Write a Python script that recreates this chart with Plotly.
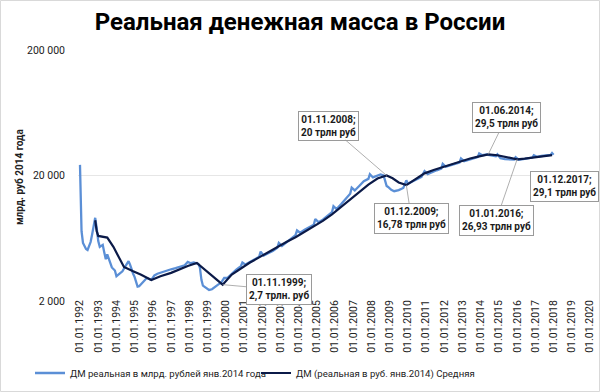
import math
import plotly.graph_objects as go

# --- data ---
light_dates = ["1992-01","1992-02","1992-03","1992-05","1992-06","1992-08","1992-09","1992-10","1992-11","1992-12",
"1993-01","1993-02","1993-04","1993-05","1993-06","1993-07","1993-08","1993-09","1993-10","1993-12",
"1994-01","1994-03","1994-05","1994-07","1994-09","1994-10","1994-11","1994-12",
"1995-01","1995-03","1995-04","1995-06","1995-09","1995-12",
"1996-02","1996-04","1996-07","1996-10","1997-01","1997-04","1997-07","1997-10","1997-12",
"1998-02","1998-04","1998-06","1998-07","1998-08","1998-09","1998-10","1998-12",
"1999-02","1999-04","1999-06","1999-08","1999-10","1999-12",
"2000-02","2000-05","2000-08","2000-11","2000-12","2001-02","2001-05","2001-08","2001-11","2001-12",
"2002-02","2002-05","2002-08","2002-11","2002-12","2003-02","2003-05","2003-08","2003-11","2003-12",
"2004-02","2004-05","2004-08","2004-11","2004-12","2005-02","2005-05","2005-08","2005-11","2005-12",
"2006-02","2006-05","2006-08","2006-11","2006-12","2007-02","2007-05","2007-08","2007-11","2007-12",
"2008-02","2008-05","2008-07","2008-09","2008-10","2008-11","2008-12",
"2009-02","2009-04","2009-07","2009-10","2009-12",
"2010-01","2010-04","2010-07","2010-10","2010-12","2011-02","2011-05","2011-08","2011-11","2011-12",
"2012-02","2012-05","2012-08","2012-11","2012-12","2013-02","2013-05","2013-08","2013-11","2013-12",
"2014-02","2014-05","2014-08","2014-11","2014-12","2015-02","2015-05","2015-08","2015-11","2015-12",
"2016-02","2016-05","2016-08","2016-11","2016-12","2017-02","2017-05","2017-08","2017-11","2017-12","2018-01"]
light_values = [24300,7200,5800,5200,5100,5900,6800,8200,9200,7600,
6000,5400,5600,4900,4300,4700,4400,4000,3700,3500,
3150,3300,3450,3800,4150,3900,3550,3300,
3100,2600,2620,2800,3050,2950,
3200,3300,3400,3500,3580,3650,3750,3850,4100,
4000,4050,4000,3950,3700,2950,2650,2550,
2450,2480,2600,2700,2800,3050,
3050,3300,3550,3800,4050,3900,4100,4300,4500,4950,
4600,4800,5000,5300,5800,5500,5900,6300,6700,7300,
7000,7400,7700,8100,9000,8500,8900,9500,10200,11400,
10800,11800,13000,14300,16000,15200,16500,18000,18800,20500,
19300,20000,20400,20000,18500,16500,16200,
15400,15000,15300,15900,18300,
17200,17800,18700,19500,21700,20500,21300,22000,22700,24800,
23500,24200,24800,25400,27300,26000,26600,27200,28000,30000,
29000,29400,29000,28500,29500,27500,27000,26800,26800,28000,
26700,27000,27400,27800,29000,28200,28600,28900,29200,30200,29300]

avg_dates = ["1992-11","1992-12","1993-01","1993-07","1993-11","1994-06","1994-12","1995-05","1995-12",
"1996-06","1997-01","1997-06","1997-12","1998-06","1999-11",
"2000-05","2000-11","2001-05","2001-11","2002-05","2002-11","2003-05","2003-11","2004-05","2004-11",
"2005-05","2005-11","2006-05","2006-11","2007-05","2007-11","2008-05","2008-11",
"2009-03","2009-07","2009-12","2010-06","2010-12","2011-06","2011-12","2012-06","2012-12",
"2013-06","2013-12","2014-06","2014-12","2015-06","2016-01","2016-06","2016-12","2017-06","2017-12"]
avg_values = [8800,7200,6600,6400,5400,3730,3450,3250,2940,
3150,3350,3550,3800,4020,2700,
3250,3650,4050,4450,4900,5350,5900,6450,7100,7900,
8700,9800,11200,12800,14700,16900,18900,20000,
19000,17600,16780,18700,20800,22100,23300,24700,26000,
27300,28400,29500,29000,27900,26930,27300,28000,28600,29100]

year_ticks = list(range(1992, 2021))
tick_vals_x = [f"{y}-01-01" for y in year_ticks]
tick_text_x = [f"01.01.{y}" for y in year_ticks]
y_tick_vals = [2000, 20000, 200000]
y_tick_text = ["2 000", "20 000", "200 000"]

callouts = [
    ("1999-11", 2700, "01.11.1999;<br>2,7 трлн. руб", 56, 5),
    ("2008-11", 20000, "01.11.2008;<br>20 трлн руб", -58, -50),
    ("2009-12", 16780, "01.12.2009;<br>16,78 трлн руб", 5, 33),
    ("2014-06", 29500, "01.06.2014;<br>29,5 трлн руб", 18, -37),
    ("2016-01", 26930, "01.01.2016;<br>26,93 трлн руб", -21, 61),
    ("2017-12", 29100, "01.12.2017;<br>29,1 трлн руб", 12, 31),
]

FONT = "Roboto"
L, R, T, B = 78, 8, 50, 91
PW, PH = 600 - L - R, 392 - T - B

fig = go.Figure()
fig.add_trace(go.Scatter(x=[d + "-01" for d in light_dates], y=light_values, mode="lines",
                         name="ДМ реальная в млрд. рублей янв.2014 года",
                         line=dict(color="#5B8FD6", width=2.3)))
fig.add_trace(go.Scatter(x=[d + "-01" for d in avg_dates], y=avg_values, mode="lines",
                         name="ДМ (реальная в руб. янв.2014) Средняя",
                         line=dict(color="#0B1A48", width=2.2)))

for d, v, txt, ax, ay in callouts:
    fig.add_annotation(x=d + "-01", y=math.log10(v), xref="x", yref="y", text="<b>" + txt + "</b>",
                       showarrow=True, arrowhead=0, arrowwidth=0.8, arrowcolor="#9A9A9A",
                       ax=ax, ay=ay, bordercolor="#9A9A9A", borderwidth=1, borderpad=2,
                       bgcolor="white", font=dict(family=FONT, size=10, color="#1a1a1a"))

# y-axis title
fig.add_annotation(x=(19 - L) / PW, y=(301 - 177) / PH, xref="paper", yref="paper",
                   text="<b>млрд. руб 2014 года</b>", textangle=-90, showarrow=False,
                   xanchor="center", yanchor="middle",
                   font=dict(family=FONT, size=10, color="#222"))

# chart-area border
fig.add_shape(type="rect", xref="paper", yref="paper",
              x0=-(L - 0.5) / PW, x1=1 + (R - 0.5) / PW, y0=-(B - 0.5) / PH, y1=1 + (T - 0.5) / PH,
              line=dict(color="#D9D9D9", width=1), fillcolor="rgba(0,0,0,0)", layer="below")

fig.update_layout(
    width=600, height=392,
    margin=dict(l=L, r=R, t=T, b=B, autoexpand=False),
    paper_bgcolor="white", plot_bgcolor="white",
    title=dict(text="<b>Реальная денежная масса в России</b>", x=0.5, xanchor="center", xref="container",
               y=1 - 22 / 392, yanchor="middle", font=dict(family=FONT, size=24, color="black")),
    font=dict(family=FONT, color="#222"),
    showlegend=True,
    legend=dict(orientation="h", x=(30 - L) / PW, xanchor="left", y=(301 - 373) / PH, yanchor="middle",
                font=dict(family=FONT, size=9.6, color="#222"), itemwidth=30,
                traceorder="normal", entrywidth=181, entrywidthmode="pixels", bgcolor="rgba(0,0,0,0)"),
    xaxis=dict(type="date", range=["1991-11-22", "2020-02-10"], tickvals=tick_vals_x, ticktext=tick_text_x,
               tickangle=-90, tickfont=dict(family=FONT, size=10.5, color="#222"), automargin=False,
               ticklabelstandoff=-4,
               showgrid=False, zeroline=False, showline=False, ticks=""),
    yaxis=dict(type="log", range=[math.log10(2000), math.log10(200000)], tickvals=y_tick_vals,
               ticktext=y_tick_text, tickfont=dict(family=FONT, size=10.5, color="#222"), automargin=False,
               ticklabelstandoff=12,
               showgrid=True, gridcolor="#E6E6E6", zeroline=False, showline=False, ticks=""),
)
fig.write_html("out.html", config={"displayModeBar": False},
               post_script="document.body.style.margin='0px';document.body.style.overflow='hidden';")
